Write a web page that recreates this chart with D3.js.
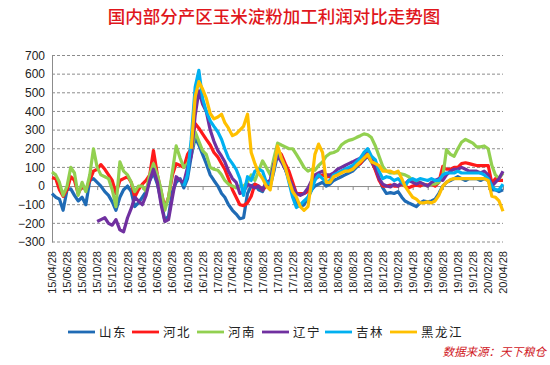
<!DOCTYPE html>
<html><head><meta charset="utf-8">
<script src="https://cdn.jsdelivr.net/npm/d3@7"></script>
<style>
body{margin:0;background:#fff;}
svg{display:block;}
</style></head>
<body><svg id="c" width="550" height="365"></svg>
<script>
const title = "国内部分产区玉米淀粉加工利润对比走势图";
const source = "数据来源：天下粮仓";
const seriesNames = ["山东","河北","河南","辽宁","吉林","黑龙江"];
const seriesColors = ["#1f6bb5","#ff1a1a","#92d050","#7030a0","#00b0f0","#ffc000"];
const yTicks = [-300,-200,-100,0,100,200,300,400,500,600,700];
const xTickLabels = ["15/04/28","15/06/28","15/08/28","15/10/28","15/12/28","16/02/28","16/04/28","16/06/28","16/08/28","16/10/28","16/12/28","17/02/28","17/04/28","17/06/28","17/08/28","17/10/28","17/12/28","18/02/28","18/04/28","18/06/28","18/08/28","18/10/28","18/12/28","19/02/28","19/04/28","19/06/28","19/08/28","19/10/28","19/12/28","20/02/28","20/04/28"];
const N = null;
const shandong = [-40,-60,-70,-130,-20,-15,-50,-80,-60,-100, 30,40,20,0,-30,-50,-85,-130,-60,-20, 0,-30,-110,-90,-60,-30,30,70,10,-80, -185,-160,-30,20,40,-10,40,160,260,220, 170,120,60,30,0,-40,-60,-100,-130,-150, -175,-170,-40,0,10,-20,-30,20,0,80, 170,150,90,40,-20,-90,-110,-100,-60,-20, 0,10,20,0,10,30,40,50,60,70, 80,100,120,140,160,130,90,40,-10,-40, -35,-40,-30,-60,-80,-90,-100,-110,-90,-80, -85,-80,-70,-40,0,20,30,40,50,40, 30,40,40,40,30,40,30,-20,-20,-30, -20];
const hebei = [45,40,-20,-55,-20,50,30,-40,0,-20, 30,80,90,115,90,60,30,-40,30,40, 50,20,-60,-20,10,30,60,190,60,-30, -115,-60,60,120,110,100,170,200,335,310, 280,250,220,180,155,120,90,40,-20,-60, -100,-105,-90,-55,10,0,-20,0,30,100, 190,170,120,80,20,-40,-40,-40,-30,10, 40,50,60,50,50,60,60,80,90,95, 100,110,120,150,160,140,85,30,0,0, 5,0,0,10,0,-10,0,5,0,10, 5,10,0,20,105,90,90,100,100,120, 125,120,115,110,110,110,110,15,40,30, 30];
const henan = [75,60,20,-50,0,100,70,-50,20,-30, 60,200,100,60,50,40,-20,-110,130,80, 60,20,-30,0,0,-30,60,120,60,-20, -130,-60,80,215,150,100,120,170,290,240, 190,170,100,90,85,60,30,10,0,-10, 0,0,20,60,30,80,135,100,60,150, 230,220,210,200,200,170,135,100,80,90, 85,110,130,160,175,180,190,220,235,245, 250,260,270,280,275,260,215,160,105,80, 70,70,70,65,60,50,30,25,20,10, 0,10,10,20,50,195,170,160,200,235, 250,240,230,210,210,215,200,110,60,40, 70];
const liaoning = [N,N,N,N,N,N,N,N,N,N,N,N, -190,-180,-170,-200,-210,-180,-235,-245, -170,-120,-60,-80,-100,-50,30,90,20,-100, -190,-180,-60,50,30,20,100,160,380,510, 440,400,300,240,190,160,130,80,40,20, -40,-30,10,0,-10,0,-20,20,30,120, 160,130,90,40,0,-40,-50,-40,-10,30, 60,70,80,60,60,70,90,100,110,120, 130,140,150,170,190,150,100,40,10,0, -5,10,0,20,10,30,20,10,20,10, 0,20,30,40,30,60,80,90,90,100, 90,80,80,80,70,80,60,0,20,40, 80];
const jilin = [N,N,N,N,N,N,N,N,N,N, N,N,N,N,N,N,N,N,N,N, N,N,N,N,N,N,N,N,N,N, N,N,N,N,N, 0,60,250,530,620, 470,400,350,320,290,250,200,150,120,90, 40,-50,50,30,80,90,80,20,10,100, 205,150,100,20,-60,-115,-100,-80,-60,-20, 30,60,40,20,30,60,70,80,90,100, 110,130,150,180,200,160,140,80,40,50, 45,30,40,20,0,30,40,30,40,35, 30,40,30,30,60,70,70,70,80,70, 70,70,70,70,70,60,40,0,-20,-20, 10];
const heilongjiang = [N,N,N,N,N,N,N,N,N,N, N,N,N,N,N,N,N,N,N,N, N,N,N,N,N,N,N,N,N,N, N,N,N,N,N,N,N, 200,480,560, 520,470,390,360,370,385,340,310,270,280, 300,320,385,180,120,70,40,0,-20,100, 215,150,100,30,-30,-60,-110,-130,-110,30, 170,225,180,20,20,50,60,70,80,80, 90,110,130,150,170,130,120,110,80,80, 80,70,80,40,0,-30,-60,-70,-90,-90, -85,-90,-80,-50,0,20,35,40,40,40, 40,40,40,40,40,40,30,-55,-60,-80, -135];
const allSeries = [shandong, hebei, henan, liaoning, jilin, heilongjiang];

const parse = d3.timeParse("%y/%m/%d");
const start = parse(xTickLabels[0]);
const dates = shandong.map((_, i) => d3.timeDay.offset(d3.timeMonth.offset(start, Math.floor(i/2)), (i%2)*15));

const svg = d3.select("#c");
const L = 52, R = 503, T = 55.5, B = 242;
const x = d3.scaleTime().domain([start, parse(xTickLabels[xTickLabels.length-1])]).range([L, R]);
const y = d3.scaleLinear().domain([-300, 700]).range([B, T]);

// title
svg.append("text").attr("x", 274).attr("y", 23).attr("text-anchor","middle")
  .attr("font-family","'Noto Sans CJK SC', sans-serif").attr("font-size", 17.5).attr("font-weight", 500)
  .attr("fill","#e0161c").text(title);

// gridlines
svg.append("g").selectAll("line").data(yTicks.filter(v => v !== 0)).join("line")
  .attr("x1", L).attr("x2", R).attr("y1", d => y(d)).attr("y2", d => y(d))
  .attr("stroke","#8c8c8c").attr("stroke-width",1).attr("stroke-dasharray","3,2");

// y axis
const ya = svg.append("g").attr("transform",`translate(${L},0)`)
  .call(d3.axisLeft(y).tickValues(yTicks).tickSize(0).tickPadding(7).tickFormat(d3.format("d")));
ya.select(".domain").attr("stroke","#8c8c8c");
ya.selectAll("text").attr("font-family","'Liberation Sans', Arial, sans-serif").attr("font-size",12).attr("fill","#222");

// x axis at zero
const xa = svg.append("g").attr("transform",`translate(0,${y(0)})`)
  .call(d3.axisBottom(x).tickValues(xTickLabels.map(parse)).tickSize(4).tickFormat(() => ""));
xa.select(".domain").attr("stroke","#8c8c8c");
xa.selectAll(".tick line").attr("stroke","#8c8c8c");

// x labels at bottom
svg.append("g").selectAll("text").data(xTickLabels).join("text")
  .attr("transform", d => `translate(${x(parse(d))+4},251) rotate(-90)`)
  .attr("text-anchor","end")
  .attr("font-family","'Liberation Sans', Arial, sans-serif").attr("font-size",11).attr("fill","#222")
  .text(d => d);

// lines
const line = d3.line().defined(d => d[1] !== null).x(d => x(d[0])).y(d => y(d[1]));
svg.append("g").selectAll("path").data(allSeries).join("path")
  .attr("d", s => line(s.map((v,i) => [dates[i], v])))
  .attr("fill","none").attr("stroke",(d,i) => seriesColors[i])
  .attr("stroke-width",3.2).attr("stroke-linejoin","round");

// legend
const legX = [68,132,197,262,325,390];
const lg = svg.append("g").selectAll("g").data(seriesNames).join("g")
  .attr("transform",(d,i) => `translate(${legX[i]},332)`);
lg.append("line").attr("x1",0).attr("x2",27).attr("stroke",(d,i) => seriesColors[i]).attr("stroke-width",2.8);
lg.append("text").attr("x",31).attr("y",4.5)
  .attr("font-family","'Noto Sans CJK SC', sans-serif").attr("font-size",12.5).attr("letter-spacing",1.5)
  .attr("fill","#222").text(d => d);

// source
svg.append("text").attr("x",546).attr("y",356).attr("text-anchor","end")
  .attr("font-family","'Noto Sans CJK SC', sans-serif").attr("font-size",11.5).attr("font-style","italic")
  .attr("fill","#d0161c").text(source);
</script></body></html>
